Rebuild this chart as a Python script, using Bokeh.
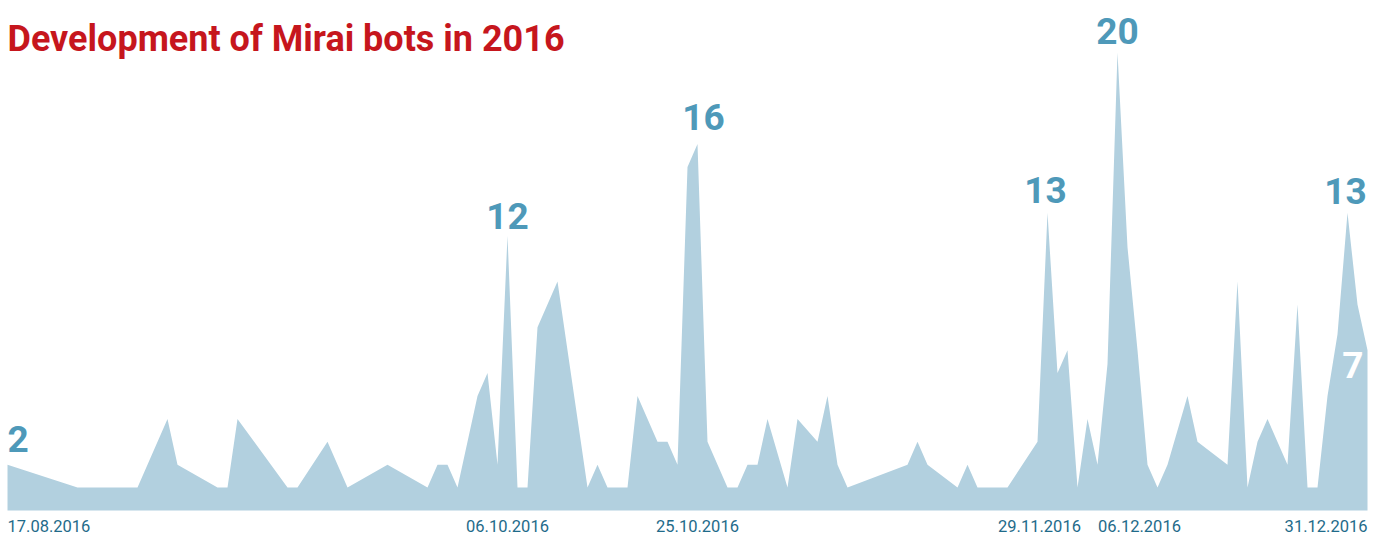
import pandas as pd
from bokeh.plotting import figure
from bokeh.models import ColumnDataSource, Range1d, Label
from bokeh.core.properties import value, field
from bokeh.embed import file_html
from bokeh.resources import INLINE

# ---------------- data ----------------
dates = [
    "2016-08-17", "2016-08-24", "2016-08-30", "2016-09-02", "2016-09-03", "2016-09-07",
    "2016-09-08", "2016-09-09", "2016-09-14", "2016-09-15", "2016-09-18", "2016-09-20",
    "2016-09-24", "2016-09-28", "2016-09-29", "2016-09-30", "2016-10-01", "2016-10-03",
    "2016-10-04", "2016-10-05", "2016-10-06", "2016-10-07", "2016-10-08", "2016-10-09",
    "2016-10-11", "2016-10-12", "2016-10-14", "2016-10-15", "2016-10-16", "2016-10-18",
    "2016-10-19", "2016-10-21", "2016-10-22", "2016-10-23", "2016-10-24", "2016-10-25",
    "2016-10-26", "2016-10-28", "2016-10-29", "2016-10-30", "2016-10-31", "2016-11-01",
    "2016-11-03", "2016-11-04", "2016-11-06", "2016-11-07", "2016-11-08", "2016-11-09",
    "2016-11-15", "2016-11-16", "2016-11-17", "2016-11-20", "2016-11-21", "2016-11-22",
    "2016-11-25", "2016-11-28", "2016-11-29", "2016-11-30", "2016-12-01", "2016-12-02",
    "2016-12-03", "2016-12-04", "2016-12-05", "2016-12-06", "2016-12-07", "2016-12-08",
    "2016-12-09", "2016-12-10", "2016-12-11", "2016-12-13", "2016-12-14", "2016-12-17",
    "2016-12-18", "2016-12-19", "2016-12-20", "2016-12-21", "2016-12-23", "2016-12-24",
    "2016-12-25", "2016-12-26", "2016-12-27", "2016-12-28", "2016-12-29", "2016-12-30",
    "2016-12-31",
]
bots = [
    2, 1, 1, 4, 2, 1,
    1, 4, 1, 1, 3, 1,
    2, 1, 2, 2, 1, 5,
    6, 2, 12, 1, 1, 8,
    10, 7, 1, 2, 1, 1,
    5, 3, 3, 2, 15, 16,
    3, 1, 1, 2, 2, 4,
    1, 4, 3, 5, 2, 1,
    2, 3, 2, 1, 2, 1,
    1, 3, 13, 6, 7, 1,
    4, 2, 6.4, 20, 11.5, 7,
    2, 1, 2, 5, 3, 2,
    10, 1, 3, 4, 2, 9,
    1, 1, 5, 7.7, 13, 9,
    7,
]

tick_dates = ["2016-08-17", "2016-10-06", "2016-10-25", "2016-11-29", "2016-12-06", "2016-12-31"]
tick_labels = ["17.08.2016", "06.10.2016", "25.10.2016", "29.11.2016", "06.12.2016", "31.12.2016"]

peak_dates = ["2016-08-17", "2016-10-06", "2016-10-25", "2016-11-29", "2016-12-06", "2016-12-29"]
end_date = "2016-12-31"

title_text = "Development of Mirai bots in 2016"

# ---------------- layout / style ----------------
W, H = 1381, 535
PX_PER_DAY = 10.0
PX_PER_BOT = 22.9
BASE_PX = 510          # baseline, px from top
LEFT_PX = 7            # first date, px from left
TITLE_BASE_PX = 38     # title anchor, px from top

AREA = "#b2d0df"
BLUE = "#4e99b9"
TEAL = "#1f6b8a"
RED = "#c6161d"
FONT = "Roboto"

x = pd.to_datetime(dates)
t0 = x[0]
x_start = t0 - pd.Timedelta(days=LEFT_PX / PX_PER_DAY)

p = figure(width=W, height=H, output_backend="svg", toolbar_location=None,
           x_axis_type="datetime", min_border=0, outline_line_color=None,
           background_fill_color="white", border_fill_color="white")
p.x_range = Range1d(start=x_start, end=x_start + pd.Timedelta(days=W / PX_PER_DAY))
p.y_range = Range1d(start=-(H - BASE_PX) / PX_PER_BOT, end=BASE_PX / PX_PER_BOT)
p.axis.visible = False
p.grid.visible = False

src = ColumnDataSource(dict(x=x, y=bots))
p.varea(x="x", y1=0, y2="y", source=src, fill_color=AREA)

# date labels under the area
tick_align = ["left", "center", "center", "center", "center", "right"]
tick_xoff = [0, 0, 0, -8, 22, 0]
tsrc = ColumnDataSource(dict(x=pd.to_datetime(tick_dates), y=[0] * len(tick_dates),
                             text=tick_labels, align=tick_align, xoff=tick_xoff))
p.text(x="x", y="y", text="text", source=tsrc, text_align=field("align"),
       x_offset="xoff", y_offset=15, text_baseline="alphabetic",
       text_font=value(FONT), text_font_size="16.5px", text_color=TEAL)

# peak value labels
lookup = dict(zip(dates, bots))
pk_vals = [lookup[d] for d in peak_dates]
pk_align = ["left"] + ["center"] * (len(peak_dates) - 1)
pk_xoff = [0, 0, 6, -2, 0, -2]
pk_yoff = [-26, -20, -27, -23, -22, -22]
psrc = ColumnDataSource(dict(x=pd.to_datetime(peak_dates), y=pk_vals,
                             text=[str(int(round(v))) for v in pk_vals],
                             align=pk_align, xoff=pk_xoff, yoff=pk_yoff))
p.text(x="x", y="y", text="text", source=psrc, text_align=field("align"),
       x_offset="xoff", y_offset="yoff", text_baseline="alphabetic",
       text_font=value(FONT), text_font_size="37px", text_font_style="bold",
       text_color=BLUE)

# last value, white inside the area
end_val = lookup[end_date]
esrc = ColumnDataSource(dict(x=pd.to_datetime([end_date]), y=[end_val], text=[str(int(end_val))]))
p.text(x="x", y="y", text="text", source=esrc, text_align="right",
       x_offset=-4, y_offset=15, text_baseline="alphabetic",
       text_font=value(FONT), text_font_size="37px", text_font_style="bold",
       text_color="white")

# title
p.add_layout(Label(x=t0, y=(BASE_PX - TITLE_BASE_PX) / PX_PER_BOT, text=title_text,
                   text_font=FONT, text_font_size="36px", text_font_style="bold",
                   text_color=RED, text_baseline="alphabetic", text_align="left"))

open("out.html", "w").write(file_html(p, INLINE))
